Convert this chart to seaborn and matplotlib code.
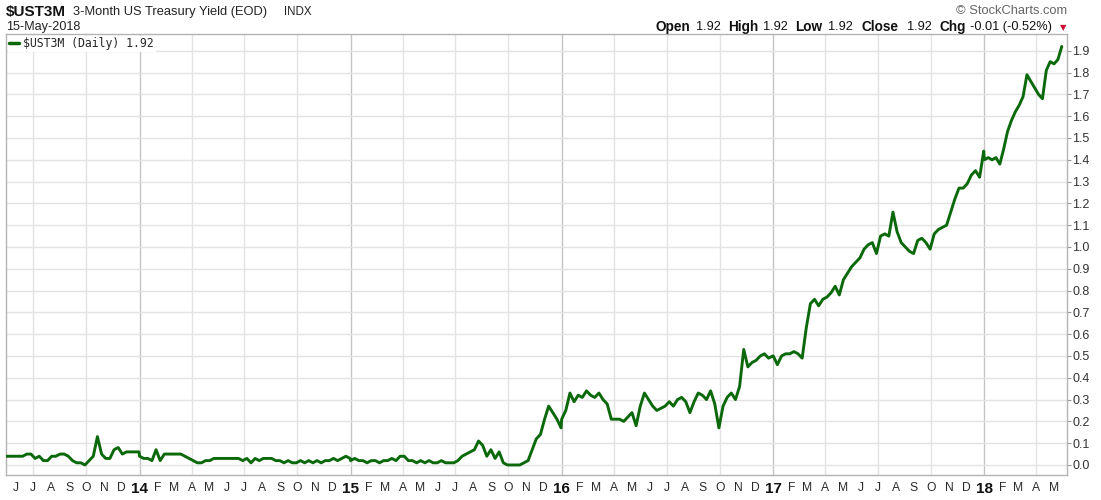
"""
3-Month US Treasury Yield chart (StockCharts style)
"""

import matplotlib
matplotlib.use('Agg')
import matplotlib.pyplot as plt
import seaborn as sns
import pandas as pd
import numpy as np

# weekly closes, one list per year
yields_2013 = [0.04, 0.04, 0.04,
               0.04, 0.04, 0.05, 0.05,
               0.03, 0.04, 0.02, 0.02,
               0.04, 0.04, 0.05, 0.05, 0.04,
               0.02, 0.01, 0.01, 0.00,
               0.02, 0.04, 0.13, 0.05, 0.03,
               0.03, 0.07, 0.08, 0.05,
               0.06, 0.06, 0.06, 0.06]
yields_2014 = [0.04, 0.03, 0.03, 0.02,
               0.07, 0.02, 0.05, 0.05,
               0.05, 0.05, 0.05, 0.04,
               0.03, 0.02, 0.01, 0.01, 0.02,
               0.02, 0.03, 0.03, 0.03,
               0.03, 0.03, 0.03, 0.03,
               0.02, 0.03, 0.01, 0.03, 0.02,
               0.03, 0.03, 0.03, 0.02,
               0.02, 0.01, 0.02, 0.01,
               0.01, 0.02, 0.01, 0.02, 0.01,
               0.02, 0.01, 0.02, 0.02,
               0.03, 0.02, 0.03, 0.04, 0.03]
yields_2015 = [0.02, 0.03, 0.02, 0.02, 0.01,
               0.02, 0.02, 0.01, 0.02,
               0.02, 0.03, 0.02, 0.04,
               0.04, 0.02, 0.02, 0.01, 0.02,
               0.01, 0.02, 0.01, 0.01,
               0.02, 0.01, 0.01, 0.01,
               0.02, 0.04, 0.05, 0.06,
               0.07, 0.11, 0.09, 0.04, 0.07,
               0.03, 0.06, 0.01, 0.00,
               0.00, 0.00, 0.00, 0.01,
               0.02, 0.07, 0.12, 0.14,
               0.21, 0.27, 0.24, 0.21, 0.17]
yields_2016 = [0.21, 0.25, 0.33, 0.29,
               0.32, 0.31, 0.34, 0.32,
               0.31, 0.33, 0.30, 0.28, 0.21,
               0.21, 0.21, 0.20, 0.22,
               0.24, 0.18, 0.27, 0.33,
               0.30, 0.27, 0.25, 0.26,
               0.27, 0.29, 0.27, 0.30, 0.31,
               0.29, 0.24, 0.29, 0.33,
               0.32, 0.30, 0.34, 0.28, 0.17,
               0.27, 0.31, 0.33, 0.30,
               0.36, 0.53, 0.45, 0.47,
               0.48, 0.50, 0.51, 0.49, 0.50]
yields_2017 = [0.50, 0.46, 0.50, 0.51,
               0.51, 0.52, 0.51, 0.49,
               0.63, 0.74, 0.76, 0.73, 0.76,
               0.77, 0.79, 0.82, 0.78,
               0.85, 0.88, 0.91, 0.93,
               0.95, 0.99, 1.01, 1.02, 0.97,
               1.05, 1.06, 1.05, 1.16,
               1.07, 1.02, 1.00, 0.98,
               0.97, 1.03, 1.04, 1.02, 0.99,
               1.06, 1.08, 1.09, 1.10,
               1.16, 1.22, 1.27, 1.27,
               1.29, 1.33, 1.35, 1.32, 1.44]
yields_2018 = [1.40, 1.41, 1.40, 1.41, 1.38,
               1.45, 1.53, 1.58, 1.62,
               1.65, 1.69, 1.79, 1.76, 1.73,
               1.70, 1.68, 1.81, 1.85,
               1.84, 1.86, 1.92]

year_spans = [('2013-05-15', '2013-12-31'), ('2014-01-01', '2014-12-31'),
              ('2015-01-01', '2015-12-31'), ('2016-01-01', '2016-12-31'),
              ('2017-01-01', '2017-12-31'), ('2018-01-01', '2018-05-15')]
all_years = [yields_2013, yields_2014, yields_2015, yields_2016, yields_2017, yields_2018]

month_letters = ['J', 'F', 'M', 'A', 'M', 'J', 'J', 'A', 'S', 'O', 'N', 'D']
y_ticks = [round(i * 0.1, 1) for i in range(20)]

frames = []
for vals, (start, end) in zip(all_years, year_spans):
    dates = pd.date_range(start, end, periods=len(vals))
    frames.append(pd.DataFrame({'date': dates, 'yield': vals}))
df = pd.concat(frames, ignore_index=True)

sns.set_style('white')
plt.rcParams['font.family'] = ['Liberation Sans', 'DejaVu Sans']

W, H = 1101, 500
fig = plt.figure(figsize=(W / 100, H / 100), dpi=100)
ax = fig.add_axes([6 / W, 1 - 475 / H, (1067 - 6) / W, (475 - 34) / H])


def px(x, y):
    return x / W, 1 - y / H


line_color = '#0b690b'
sns.lineplot(data=df, x='date', y='yield', ax=ax, color=line_color, linewidth=2.1,
             label=r'\$UST3M (Daily) 1.92', zorder=3)

# axes limits / y ticks on the right
ax.set_xlim(pd.Timestamp('2013-05-15'), pd.Timestamp('2018-05-24'))
ax.set_ylim(-0.046, 1.977)
ax.set_yticks(y_ticks)
ax.set_yticklabels([f'{v:.1f}' for v in y_ticks])
ax.yaxis.tick_right()
ax.tick_params(axis='y', length=3, width=0.8, color='#9a9a9a', labelsize=9,
               labelcolor='#333333', pad=1)
ax.grid(axis='y', color='#e3e3e3', linewidth=1)
ax.grid(axis='x', visible=False)

# month ticks, years in bold
month_starts = pd.date_range('2013-06-01', '2018-05-01', freq='MS')
ax.set_xticks(month_starts)
labels = [f'{d.year % 100}' if d.month == 1 else month_letters[d.month - 1] for d in month_starts]
ax.set_xticklabels(labels)
ax.tick_params(axis='x', length=0, pad=5, labelsize=8.7, labelcolor='#2a2a2a')
for d, lbl in zip(month_starts, ax.get_xticklabels()):
    if d.month == 1:
        lbl.set_fontweight('bold')
        lbl.set_fontsize(11)
        lbl.set_color('#111111')

# quarterly vertical grid, darker at year starts
for d in pd.date_range('2013-07-01', '2018-04-01', freq='QS'):
    ax.axvline(d, color='#c4c4c4' if d.month == 1 else '#e3e3e3', linewidth=1, zorder=0)

for s in ax.spines.values():
    s.set_visible(True)
    s.set_color('#b3b3b3')
    s.set_linewidth(1)

ax.set_xlabel('')
ax.set_ylabel('')

leg = ax.legend(loc='upper left', bbox_to_anchor=(0.0, 1.0), frameon=True, fancybox=False,
                edgecolor='none', framealpha=1, handlelength=0.8, handletextpad=0.4,
                borderaxespad=0.15, borderpad=0.15,
                prop={'family': 'DejaVu Sans Mono', 'size': 8.3})
for h in leg.get_lines():
    h.set_linewidth(2.5)

# header, left side
fig.text(*px(6, 12), r'\$UST3M', fontsize=11, fontweight='bold', va='center', ha='left', color='#111111')
fig.text(*px(73, 12), '3-Month US Treasury Yield (EOD)', fontsize=9.3, va='center', ha='left', color='#222222')
fig.text(*px(284, 12), 'INDX', fontsize=8.3, va='center', ha='left', color='#222222')
fig.text(*px(6, 27), '15-May-2018', fontsize=9.1, va='center', ha='left', color='#222222')

# header, right side
fig.text(*px(1067, 11), '© StockCharts.com', fontsize=9.3, va='center', ha='right', color='#666666')
quote_parts = [(655, 'Open', True), (696, '1.92', False), (728, 'High', True), (763, '1.92', False),
               (795, 'Low', True), (828, '1.92', False), (862, 'Close', True), (907, '1.92', False),
               (940, 'Chg', True), (970, '-0.01 (-0.52%)', False)]
for x, txt, bold in quote_parts:
    fig.text(*px(x, 27), txt, fontsize=9.8 if bold else 9.2, va='center', ha='left',
             fontweight='bold' if bold else 'normal', color='#111111')
fig.text(*px(1063, 28), '▼', fontsize=6, va='center', ha='center', color='#cc1133',
         family='DejaVu Sans')

fig.savefig('out.png', dpi=100)
plt.close()
